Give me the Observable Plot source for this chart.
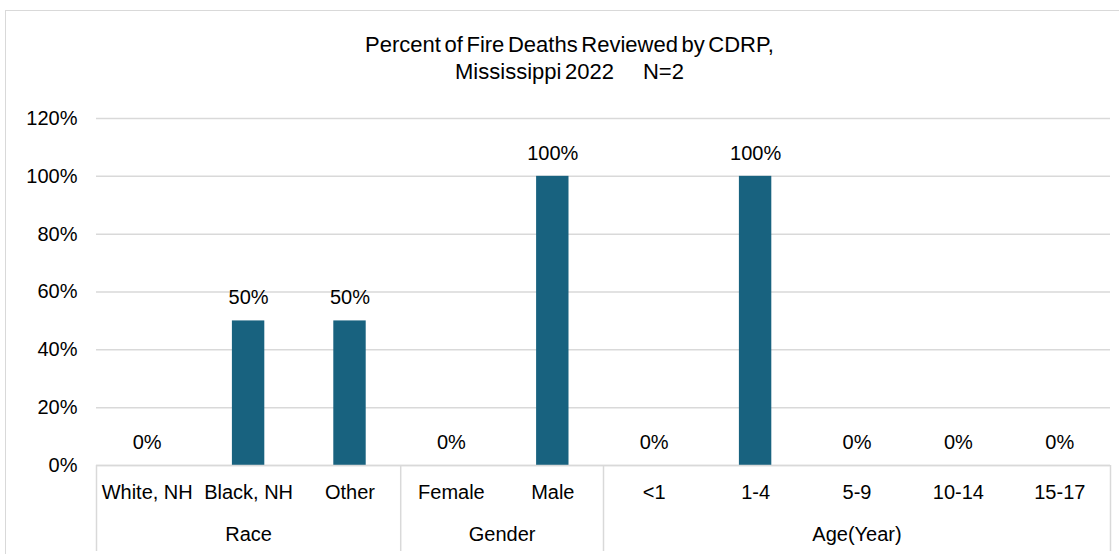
<!DOCTYPE html>
<html><head><meta charset="utf-8">
<script src="https://cdn.jsdelivr.net/npm/d3@7"></script>
<script src="https://cdn.jsdelivr.net/npm/@observablehq/plot@0.6"></script>
<style>
body{margin:0;background:#fff;font-family:"Liberation Sans",Arial,sans-serif;}
#wrap{position:relative;width:1119px;height:554px;overflow:hidden;}
#frame{position:absolute;left:5px;top:10px;width:1140px;height:580px;border:1.5px solid #d9d9d9;box-sizing:border-box;pointer-events:none;}
#title{position:relative;height:100px;box-sizing:border-box;padding-top:31px;padding-left:20px;text-align:center;font-size:22px;line-height:27px;color:#000;word-spacing:-2.5px;}
#title .gap{display:inline-block;width:29px;}
#chart{position:relative;}
</style></head>
<body>
<div id="wrap">
<div id="frame"></div>
<div id="title">Percent of Fire Deaths Reviewed by CDRP,<br>Mississippi 2022<span class="gap"></span>N=2</div>
<div id="chart"></div>
</div>
<script>
const categories = ["White, NH","Black, NH","Other","Female","Male","<1","1-4","5-9","10-14","15-17"];
const groups = ["Race","Race","Race","Gender","Gender","Age(Year)","Age(Year)","Age(Year)","Age(Year)","Age(Year)"];
const values = [0, 0.5, 0.5, 0, 1, 0, 1, 0, 0, 0];
const yTicks = [0, 0.2, 0.4, 0.6, 0.8, 1.0, 1.2];

const data = categories.map((c, i) => ({i, category: c, group: groups[i], value: values[i]}));
const groupNames = [...new Set(groups)];
const groupInfo = groupNames.map(g => {
  const idx = data.filter(d => d.group === g).map(d => d.i);
  return {name: g, start: d3.min(idx), end: d3.max(idx), center: (d3.min(idx) + d3.max(idx)) / 2};
});
const boundaries = [groupInfo[0].start - 0.5, ...groupInfo.map(g => g.end + 0.5)];
const pct = d3.format(".0%");
const grey = "#d9d9d9";
const barColor = "#18627f";

const chart = Plot.plot({
  width: 1119,
  height: 454,
  marginTop: 18,
  marginBottom: 89,
  marginLeft: 96,
  marginRight: 9,
  style: {fontFamily: "'Liberation Sans', Arial, sans-serif", fontSize: "20px", color: "#000", background: "transparent"},
  x: {type: "linear", domain: [-0.5, categories.length - 0.5]},
  y: {domain: [0, 1.2]},
  marks: [
    Plot.gridY({ticks: yTicks, stroke: grey, strokeOpacity: 1, strokeWidth: 1.5}),
    Plot.axisY({ticks: yTicks, tickFormat: pct, tickSize: 0, tickPadding: 19, fontSize: 20, label: null}),
    Plot.axisX({ticks: data.map(d => d.i), tickFormat: i => categories[i], tickSize: 0, tickPadding: 19, fontSize: 20, label: null}),
    Plot.rectY(data, {x1: d => d.i - 0.5, x2: d => d.i + 0.5, y: "value", insetLeft: 34.5, insetRight: 34.5, fill: barColor}),
    Plot.ruleY([0], {stroke: grey, strokeWidth: 1.5}),
    Plot.ruleX(boundaries, {x: d => d, stroke: grey, strokeWidth: 1.5, insetTop: 347, insetBottom: -86}),
    Plot.text(data, {x: "i", y: "value", text: d => pct(d.value), dy: -23, fontSize: 20, fill: "#000"}),
    Plot.text(groupInfo, {x: "center", y: () => 0, text: "name", dy: 69, fontSize: 20, fill: "#000"})
  ]
});
document.getElementById("chart").appendChild(chart);
</script>
</body></html>
